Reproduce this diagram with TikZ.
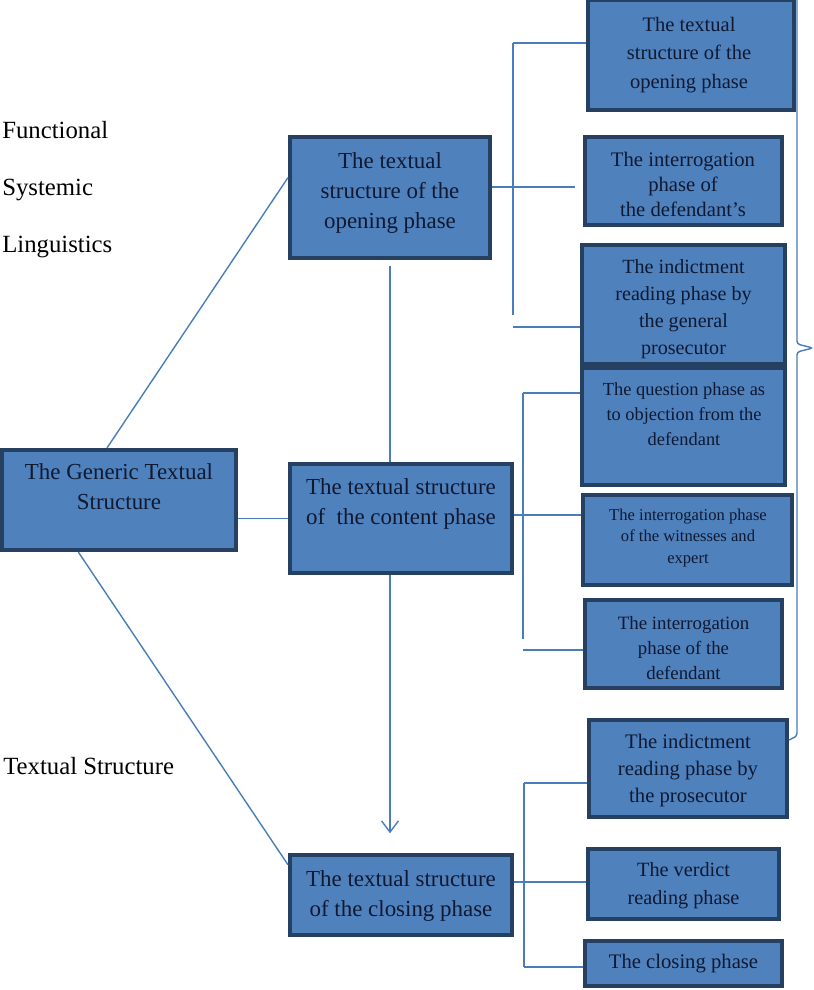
\documentclass[tikz,border=0pt]{standalone}
\usepackage{fontspec}
\setmainfont{Liberation Serif}
\usetikzlibrary{arrows.meta}
\definecolor{boxfill}{RGB}{79,129,189}
\definecolor{boxline}{RGB}{37,64,97}
\definecolor{linkc}{RGB}{74,126,187}
\definecolor{txtc}{RGB}{15,25,50}
\begin{document}
\begin{tikzpicture}[x=0.025cm,y=-0.025cm,
    box/.style={draw=boxline,fill=boxfill,line width=2.6pt},
    lbl/.style={text=txtc,align=center,inner sep=0pt},
    big/.style={lbl,font=\fontsize{16.3}{21.5}\selectfont},
    link/.style={linkc,line width=1pt}]
  \useasboundingbox (0,0) rectangle (813,990);

  % boxes of the middle column
  \node[box,minimum width=5.86cm,minimum height=2.51cm] (gen) at (119,500) {};
  \node[box,minimum width=5.01cm,minimum height=3.03cm] (op) at (390,197.5) {};
  \node[box,minimum width=5.56cm,minimum height=2.73cm] (con) at (401,518.5) {};
  \node[box,minimum width=5.56cm,minimum height=2.01cm] (clo) at (401,895) {};

  % boxes of the right column
  \node[box,minimum width=5.16cm,minimum height=2.76cm] (r1) at (691,55) {};
  \node[box,minimum width=4.93cm,minimum height=2.21cm] (r2) at (683.5,181) {};
  \node[box,minimum width=5.08cm,minimum height=2.98cm] (r3) at (683.5,304.5) {};
  \node[box,minimum width=5.08cm,minimum height=2.93cm] (r4) at (683.5,426.5) {};
  \node[box,minimum width=5.23cm,minimum height=2.26cm] (r5) at (687.5,540) {};
  \node[box,minimum width=4.93cm,minimum height=2.21cm] (r6) at (683.5,644) {};
  \node[box,minimum width=4.96cm,minimum height=2.43cm] (r7) at (688,768.5) {};
  \node[box,minimum width=4.78cm,minimum height=1.76cm] (r8) at (683.5,884) {};
  \node[box,minimum width=4.93cm,minimum height=1.13cm] (r9) at (683.5,963.5) {};

  % texts
  \node[big] (gen-t) at (119,487) {The Generic Textual\\Structure};
  \node[big] (op-t) at (390,193) {The textual\\structure of the\\opening phase};
  \node[big] (con-t) at (401,504) {The textual structure\\of~ the content phase};
  \node[big] (clo-t) at (401,896) {The textual structure\\of the closing phase};
  \node[lbl,font=\fontsize{14.6}{20}\selectfont] (r1-t) at (689,55) {The textual\\structure of the\\opening phase};
  \node[lbl,font=\fontsize{14.7}{17.8}\selectfont] (r2-t) at (683,184) {The interrogation\\phase of\\the defendant’s};
  \node[lbl,font=\fontsize{14.3}{19.2}\selectfont] (r3-t) at (683.5,309.5) {The indictment\\reading phase by\\the general\\prosecutor};
  \node[lbl,font=\fontsize{13.1}{17.8}\selectfont] (r4-t) at (684,414) {The question phase as\\to objection from the\\defendant};
  \node[lbl,font=\fontsize{11.8}{15.6}\selectfont] (r5-t) at (688,538) {The interrogation phase\\of the witnesses and\\expert};
  \node[lbl,font=\fontsize{13.4}{17.8}\selectfont] (r6-t) at (683.5,648) {The interrogation\\phase of the\\defendant};
  \node[lbl,font=\fontsize{14.7}{19.2}\selectfont] (r7-t) at (688,771) {The indictment\\reading phase by\\the prosecutor};
  \node[lbl,font=\fontsize{14.4}{20}\selectfont] (r8-t) at (683.5,886) {The verdict\\reading phase};
  \node[lbl,font=\fontsize{14.7}{18}\selectfont] (r9-t) at (683.5,964) {The closing phase};

  \node[anchor=west,align=left,inner sep=0pt,font=\fontsize{17.6}{40.5}\selectfont] (fsl) at (2,190) {Functional\\Systemic\\Linguistics};
  \node[anchor=west,inner sep=0pt,font=\fontsize{17.6}{21}\selectfont] (ts) at (3,766) {Textual Structure};

  % links from the generic structure
  \draw[link] (gen.103) -- (op.169);
  \draw[link] (gen.east |- con.west) -- (con.west);
  \draw[link] (gen.232) -- (clo.165);
  \draw[link,shorten <=4pt] (op.south) -- (op.south |- con.north);
  \draw[link,-{Straight Barb[length=8pt,width=12pt]},shorten >=14pt] (op.south |- con.south) -- (op.south |- clo.north);

  % first bracket
  \coordinate (s1a) at (513,43);
  \coordinate (s1b) at (513,315);
  \coordinate (s1c) at (513,327);
  \coordinate (m1) at (575,187);
  \draw[link] (s1a) -- (r1.west |- s1a);
  \draw[link] (s1a) -- (s1b);
  \draw[link] (op.east |- m1) -- (m1);
  \draw[link] (s1c) -- (r3.west |- s1c);

  % second bracket
  \coordinate (s2a) at (523,393);
  \coordinate (s2b) at (523,639);
  \coordinate (s2c) at (523,650);
  \draw[link] (s2a) -- (r4.west |- s2a);
  \draw[link] (s2a) -- (s2b);
  \draw[link] (con.east |- 0,515) -- (r5.west |- 0,515);
  \draw[link] (s2c) -- (r6.west |- s2c);

  % third bracket
  \coordinate (s3a) at (524,783);
  \coordinate (s3b) at (524,967);
  \coordinate (m3) at (clo.east |- 0,882);
  \draw[link] (s3a) -- (r7.west |- s3a);
  \draw[link] (s3a) -- (s3b);
  \draw[link] (m3) -- (r8.west |- m3);
  \draw[link] (s3b) -- (r9.west |- s3b);

  % brace on the right
  \coordinate (bt) at (797,-20);
  \coordinate (bm) at (813,348);
  \coordinate (bb) at (r7.east |- 0,740);
  \draw[link,rounded corners=2pt] (bt) -- (797,344) -- (bm) -- (797,352) -- (797,736) -- (bb);
\end{tikzpicture}
\end{document}
